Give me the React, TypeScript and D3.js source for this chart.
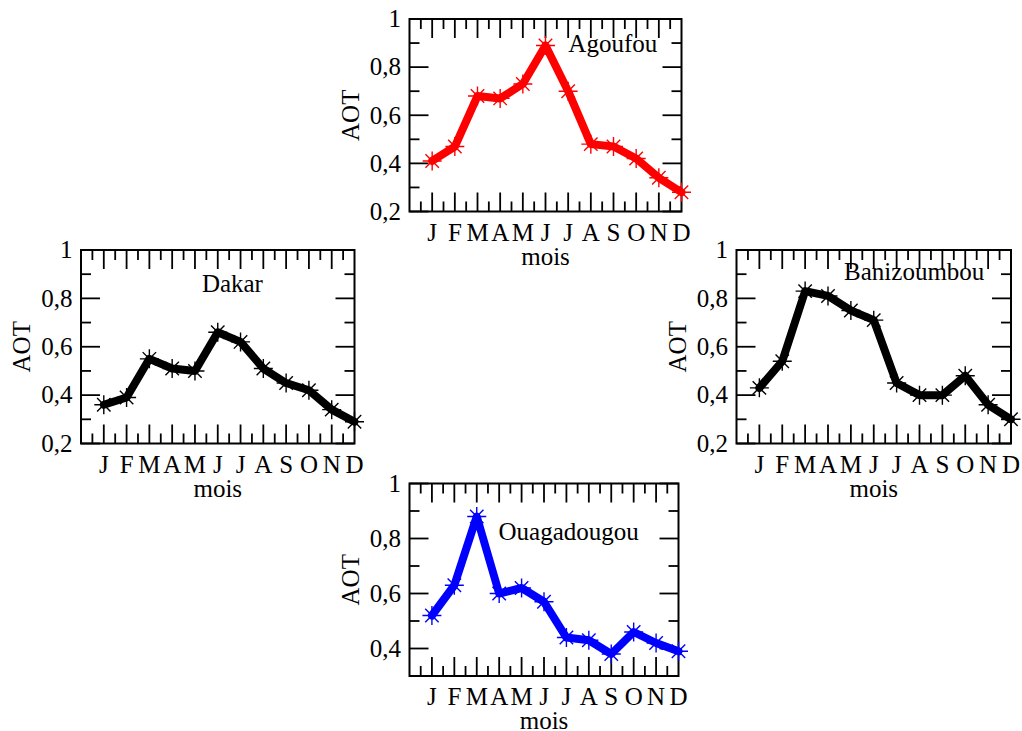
import React from 'react';
import * as d3 from 'd3';

// Monthly mean AOT per station
const months = ['J', 'F', 'M', 'A', 'M', 'J', 'J', 'A', 'S', 'O', 'N', 'D'];
const agoufou = [0.41, 0.47, 0.68, 0.67, 0.73, 0.89, 0.70, 0.48, 0.47, 0.42, 0.34, 0.28];
const dakar = [0.36, 0.39, 0.55, 0.51, 0.50, 0.66, 0.62, 0.51, 0.45, 0.42, 0.34, 0.29];
const banizoumbou = [0.43, 0.54, 0.83, 0.81, 0.75, 0.71, 0.45, 0.40, 0.40, 0.48, 0.36, 0.30];
const ouagadougou = [0.52, 0.63, 0.88, 0.60, 0.62, 0.57, 0.44, 0.43, 0.38, 0.46, 0.42, 0.39];

const yMajorFull = [0.2, 0.4, 0.6, 0.8, 1];
const yMinorFull = [0.3, 0.5, 0.7, 0.9];
const yMajorOuaga = [0.4, 0.6, 0.8, 1];
const yMinorOuaga = [0.3, 0.5, 0.7, 0.9];

const FONT = "'Liberation Serif', 'Times New Roman', serif";
const FS = 25;

type PanelSpec = {
  name: string;
  values: number[];
  color: string;
  left: number;
  right: number;
  top: number;
  bottom: number;
  yDomain: [number, number];
  yMajor: number[];
  yMinor: number[];
  titleFx: number;
  titleFy: number;
};

const panels: PanelSpec[] = [
  { name: 'Agoufou', values: agoufou, color: '#ff0000', left: 409.5, right: 681.5, top: 19, bottom: 211.5,
    yDomain: [0.2, 1], yMajor: yMajorFull, yMinor: yMinorFull, titleFx: 0.584, titleFy: 0.17 },
  { name: 'Dakar', values: dakar, color: '#000000', left: 81, right: 354.5, top: 250, bottom: 443.5,
    yDomain: [0.2, 1], yMajor: yMajorFull, yMinor: yMinorFull, titleFx: 0.442, titleFy: 0.219 },
  { name: 'Banizoumbou', values: banizoumbou, color: '#000000', left: 736.5, right: 1011, top: 250, bottom: 443.5,
    yDomain: [0.2, 1], yMajor: yMajorFull, yMinor: yMinorFull, titleFx: 0.392, titleFy: 0.155 },
  { name: 'Ouagadougou', values: ouagadougou, color: '#0000ff', left: 409.5, right: 678.5, top: 483.5, bottom: 676,
    yDomain: [0.3, 1], yMajor: yMajorOuaga, yMinor: yMinorOuaga, titleFx: 0.331, titleFy: 0.294 },
];

const MAJOR = 19;
const MINOR = 10;

function starPath(r: number) {
  const d = r * Math.SQRT1_2;
  return `M${-r},0L${r},0M0,${-r}L0,${r}M${-d},${-d}L${d},${d}M${-d},${d}L${d},${-d}`;
}

function fmt(v: number) {
  return d3.format('.1f')(v).replace(/\.0$/, '').replace('.', ',');
}

function Panel({ p }: { p: PanelSpec }) {
  const x = d3.scaleLinear().domain([0, 12]).range([p.left, p.right]);
  const y = d3.scaleLinear().domain(p.yDomain).range([p.bottom, p.top]);
  const line = d3.line<number>().x((_, i) => x(i + 1)).y((d) => y(d));
  const xMajor = d3.range(1, 12);
  const xMinor = d3.range(0.5, 12, 1);
  const tick = { stroke: '#000', strokeWidth: 1.8 };
  const midY = (p.top + p.bottom) / 2;
  const midX = (p.left + p.right) / 2;
  return (
    <g>
      {/* x ticks, bottom and top, pointing inward */}
      {xMajor.map((t) => (
        <g key={`xM${t}`}>
          <line x1={x(t)} x2={x(t)} y1={p.bottom} y2={p.bottom - MAJOR} {...tick} />
          <line x1={x(t)} x2={x(t)} y1={p.top} y2={p.top + MAJOR} {...tick} />
        </g>
      ))}
      {xMinor.map((t) => (
        <g key={`xm${t}`}>
          <line x1={x(t)} x2={x(t)} y1={p.bottom} y2={p.bottom - MINOR} {...tick} />
          <line x1={x(t)} x2={x(t)} y1={p.top} y2={p.top + MINOR} {...tick} />
        </g>
      ))}
      {/* y ticks, left and right, pointing inward */}
      {p.yMajor.map((t) => (
        <g key={`yM${t}`}>
          <line x1={p.left} x2={p.left + MAJOR} y1={y(t)} y2={y(t)} {...tick} />
          <line x1={p.right} x2={p.right - MAJOR} y1={y(t)} y2={y(t)} {...tick} />
          <text x={p.left - 8.5} y={y(t) + FS * 0.33} textAnchor="end" fontFamily={FONT} fontSize={FS}>
            {fmt(t)}
          </text>
        </g>
      ))}
      {p.yMinor.map((t) => (
        <g key={`ym${t}`}>
          <line x1={p.left} x2={p.left + MINOR} y1={y(t)} y2={y(t)} {...tick} />
          <line x1={p.right} x2={p.right - MINOR} y1={y(t)} y2={y(t)} {...tick} />
        </g>
      ))}
      <rect x={p.left} y={p.top} width={p.right - p.left} height={p.bottom - p.top}
        fill="none" stroke="#000" strokeWidth={2} />
      {months.map((m, i) => (
        <text key={`mo${i}`} x={x(i + 1)} y={p.bottom + 29} textAnchor="middle" fontFamily={FONT} fontSize={FS}>
          {m}
        </text>
      ))}
      <text x={midX} y={p.bottom + 53} textAnchor="middle" fontFamily={FONT} fontSize={FS}>mois</text>
      <text transform={`translate(${p.left - 51},${midY}) rotate(-90)`} textAnchor="middle"
        fontFamily={FONT} fontSize={FS}>AOT</text>
      <text x={p.left + p.titleFx * (p.right - p.left)} y={p.top + p.titleFy * (p.bottom - p.top)}
        fontFamily={FONT} fontSize={FS}>{p.name}</text>
      <path d={line(p.values) ?? ''} fill="none" stroke={p.color} strokeWidth={8}
        strokeLinejoin="round" strokeLinecap="round" />
      {p.values.map((v, i) => (
        <path key={`pt${i}`} d={starPath(9.5)} transform={`translate(${x(i + 1)},${y(v)})`}
          fill="none" stroke={p.color} strokeWidth={1.4} />
      ))}
    </g>
  );
}

export default function App() {
  return (
    <svg width={1022} height={731} style={{ position: 'absolute', left: 0, top: 0, background: '#fff' }}>
      <rect width={1022} height={731} fill="#fff" />
      {panels.map((p) => (
        <Panel key={p.name} p={p} />
      ))}
    </svg>
  );
}
